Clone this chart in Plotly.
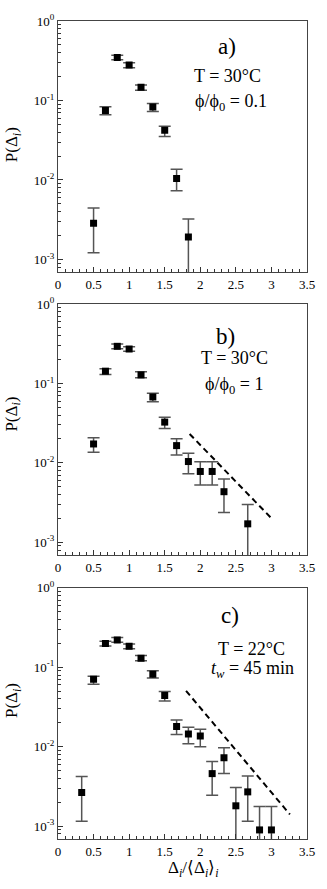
import numpy as np
import plotly.graph_objects as go

# ---------------- data ----------------
x_a = [0.5, 0.667, 0.833, 1.0, 1.167, 1.333, 1.5, 1.667, 1.833]
y_a = [0.00285, 0.075, 0.348, 0.279, 0.147, 0.0826, 0.0422, 0.0104, 0.00192]
hi_a = [0.00442, 0.0834, 0.372, 0.2985, 0.157, 0.0917, 0.0473, 0.0136, 0.00322]
lo_a = [0.00121, 0.0662, 0.325, 0.2585, 0.1345, 0.0729, 0.0351, 0.00729, 1e-5]

x_b = [0.5, 0.667, 0.833, 1.0, 1.167, 1.333, 1.5, 1.667, 1.833, 2.0, 2.167, 2.333, 2.667]
y_b = [0.0173, 0.1426, 0.293, 0.271, 0.128, 0.0675, 0.0326, 0.0165, 0.0104, 0.0078, 0.0078, 0.00434, 0.00171]
hi_b = [0.0207, 0.1525, 0.313, 0.29, 0.14, 0.075, 0.0376, 0.0201, 0.0132, 0.0103, 0.0103, 0.00625, 0.00299]
lo_b = [0.0136, 0.1296, 0.274, 0.2535, 0.118, 0.059, 0.0271, 0.0126, 0.00729, 0.00526, 0.00526, 0.00237, 1e-5]

x_c = [0.333, 0.5, 0.667, 0.833, 1.0, 1.167, 1.333, 1.5, 1.667, 1.833, 2.0, 2.167, 2.333, 2.5, 2.667, 2.833, 3.0]
y_c = [0.00266, 0.0708, 0.2, 0.221, 0.1845, 0.1306, 0.0818, 0.0442, 0.0180, 0.01454, 0.01372, 0.0046, 0.00729, 0.00181, 0.00271, 0.0009, 0.0009]
hi_c = [0.00422, 0.0772, 0.213, 0.237, 0.197, 0.141, 0.0907, 0.0495, 0.0218, 0.0176, 0.0166, 0.00655, 0.00972, 0.00307, 0.00429, 0.00178, 0.00178]
lo_c = [0.001155, 0.0613, 0.186, 0.207, 0.171, 0.121, 0.0735, 0.0376, 0.01425, 0.0109, 0.0100, 0.00246, 0.0046, 1e-5, 0.001155, 1e-5, 1e-5]

fit_b_x = [1.85, 3.0]
fit_b_y = [0.0231, 0.00201]
fit_c_x = [1.80, 3.26]
fit_c_y = [0.0506, 0.00141]

x_tickvals = [0, 0.5, 1, 1.5, 2, 2.5, 3, 3.5]
x_ticktext = ["0", "0.5", "1", "1.5", "2", "2.5", "3", "3.5"]
y_tickvals = [1, 0.1, 0.01, 0.001]
y_ticktext = ["10<sup>0</sup>", "10<sup>-1</sup>", "10<sup>-2</sup>", "10<sup>-3</sup>"]

panel_labels = ["a)", "b)", "c)"]
line1 = ["T = 30°C", "T = 30°C", "T = 22°C"]
line2 = ["ϕ/ϕ<sub>0</sub> = 0.1", "ϕ/ϕ<sub>0</sub> = 1", "<i>t<sub>w</sub></i> = 45 min"]

# ---------------- figure ----------------
FONT = "Liberation Serif"
fig = go.Figure()

panels = [(x_a, y_a, hi_a, lo_a, None, None),
          (x_b, y_b, hi_b, lo_b, fit_b_x, fit_b_y),
          (x_c, y_c, hi_c, lo_c, fit_c_x, fit_c_y)]

domains = [[0.6930, 1.0], [0.3471, 0.6541], [0.0, 0.3070]]

for i, (xs, ys, hi, lo, fx, fy) in enumerate(panels):
    xa = "x" if i == 0 else f"x{i+1}"
    ya = "y" if i == 0 else f"y{i+1}"
    plus = [h - v for h, v in zip(hi, ys)]
    minus = [v - l for v, l in zip(ys, lo)]
    if fx is not None:
        fig.add_trace(go.Scatter(x=fx, y=fy, mode="lines", xaxis=xa, yaxis=ya,
                                 line=dict(color="black", width=2, dash="6px,4px"),
                                 showlegend=False, hoverinfo="skip"))
    fig.add_trace(go.Scatter(
        x=xs, y=ys, mode="markers", xaxis=xa, yaxis=ya, showlegend=False,
        marker=dict(symbol="square", size=7, color="black"),
        error_y=dict(type="data", symmetric=False, array=plus, arrayminus=minus,
                     color="#555555", thickness=1.5, width=6),
    ))

minor_y = [m * 10.0 ** e for e in range(-4, 0) for m in range(2, 10)]

layout = dict(
    width=327, height=889,
    margin=dict(l=58, r=15, t=15, b=50),
    paper_bgcolor="white", plot_bgcolor="white",
    font=dict(family=FONT, size=13, color="black"),
)
for i in range(3):
    xk = "xaxis" if i == 0 else f"xaxis{i+1}"
    yk = "yaxis" if i == 0 else f"yaxis{i+1}"
    ya = "y" if i == 0 else f"y{i+1}"
    xa = "x" if i == 0 else f"x{i+1}"
    layout[xk] = dict(
        domain=[0, 1], anchor=ya, range=[0, 3.5],
        tickvals=x_tickvals, ticktext=x_ticktext,
        ticks="inside", ticklen=5, tickcolor="#333", tickwidth=1,
        minor=dict(ticks="inside", ticklen=3, dtick=0.1, tickcolor="#333"),
        showline=True, linecolor="#444", linewidth=1, mirror=True,
        showgrid=False, zeroline=False,
        tickfont=dict(family=FONT, size=13, color="black"),
    )
    layout[yk] = dict(
        domain=domains[i], anchor=xa, type="log", range=[-3.16, 0],
        tickvals=y_tickvals, ticktext=y_ticktext,
        ticks="inside", ticklen=5, tickcolor="#333", tickwidth=1,
        minor=dict(ticks="inside", ticklen=3, tickvals=minor_y, tickcolor="#333"),
        showline=True, linecolor="#444", linewidth=1, mirror=True,
        showgrid=False, zeroline=False,
        tickfont=dict(family=FONT, size=13, color="black"),
    )
fig.update_layout(**layout)

ann = []
label_pos = [(0.68, 0.897), (0.672, 0.87), (0.69, 0.889)]
l1_pos = [(0.681, 0.779), (0.708, 0.783), (0.778, 0.755)]
l2_pos = [(0.696, 0.677), (0.705, 0.677), (0.78, 0.674)]
ytitle_pos = [0.506, 0.56, 0.55]
for i in range(3):
    xd = "x domain" if i == 0 else f"x{i+1} domain"
    yd = "y domain" if i == 0 else f"y{i+1} domain"
    common = dict(xref=xd, yref=yd, showarrow=False, xanchor="center", yanchor="middle")
    ann.append(dict(text=panel_labels[i], x=label_pos[i][0], y=label_pos[i][1],
                    font=dict(family=FONT, size=23, color="black"), **common))
    ann.append(dict(text=line1[i], x=l1_pos[i][0], y=l1_pos[i][1],
                    font=dict(family=FONT, size=18, color="black"), **common))
    ann.append(dict(text=line2[i], x=l2_pos[i][0], y=l2_pos[i][1],
                    font=dict(family=FONT, size=18, color="black"), **common))
    ann.append(dict(text="P(Δ<sub><i>i</i></sub>)", x=-0.18, y=ytitle_pos[i],
                    textangle=-90, font=dict(family=FONT, size=17, color="black"), **common))
ann.append(dict(text="Δ<sub><i>i</i></sub>/⟨Δ<sub><i>i</i></sub>⟩<sub><i>i</i></sub>",
                x=0.545, y=-0.118, xref="x3 domain", yref="y3 domain",
                xanchor="center", yanchor="middle", showarrow=False,
                font=dict(family=FONT, size=17, color="black")))
fig.update_layout(annotations=ann)

fig.write_html("out.html", config={"displayModeBar": False},
               post_script="document.body.style.margin='0';document.body.style.overflow='hidden';")
